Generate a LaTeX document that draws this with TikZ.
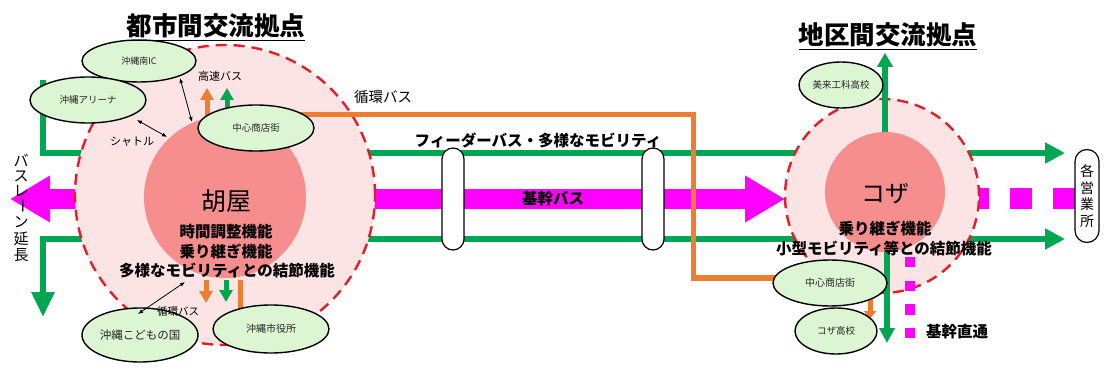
\documentclass[tikz,border=0pt]{standalone}
\usepackage{fontspec}
\setmainfont{Noto Sans CJK JP}
\usetikzlibrary{arrows.meta,shapes.geometric}
\definecolor{gr}{RGB}{0,166,81}
\definecolor{mg}{RGB}{255,0,255}
\definecolor{org}{RGB}{237,125,49}
\definecolor{pinkL}{RGB}{253,228,228}
\definecolor{pinkD}{RGB}{247,142,142}
\definecolor{redD}{RGB}{228,30,38}
\definecolor{elg}{RGB}{220,245,210}
\newcommand\fsz[1]{\fontsize{#1}{#1}\selectfont}
\pgfdeclarelayer{back}
\pgfdeclarelayer{mid}
\pgfdeclarelayer{top}
\pgfsetlayers{back,mid,main,top}
\tikzset{
  grline/.style={draw=gr, line width=6pt},
  orline/.style={draw=org, line width=5pt},
  capsule/.style={rectangle, draw=black, fill=white, line width=1.2pt, rounded corners=11pt, inner sep=0pt},
  outerc/.style={circle, fill=pinkL, draw=redD, line width=2.4pt, dash pattern=on 11pt off 7pt, inner sep=0pt},
  innerc/.style={circle, fill=pinkD, inner sep=0pt},
  spot/.style={ellipse, draw=black, fill=elg, line width=1.4pt, inner sep=0pt, text=black!85},
  txt/.style={inner sep=0pt, text=black},
  btxt/.style={inner sep=0pt, text=black, font=\bfseries},
  dbl/.style={draw=black, line width=0.8pt, {Latex[length=5pt,width=4pt]}-{Latex[length=5pt,width=4pt]}},
}
\begin{document}
\begin{tikzpicture}[x=1pt,y=-1pt]
\begin{pgfonlayer}{back}
\fill[white] (0,0) rectangle (1105,371);
\end{pgfonlayer}
\useasboundingbox (0,0) rectangle (1105,371);

% ---------- ellipses (top layer, defined first for naming)
\begin{pgfonlayer}{top}
\node[spot, minimum width=114pt, minimum height=42pt] (ic) at (139,61) {\fsz{9}沖縄南IC};
\node[spot, minimum width=116pt, minimum height=46pt] (arena) at (88,100) {\fsz{9.5}沖縄アリーナ};
\node[spot, minimum width=116pt, minimum height=46pt] (lshop) at (256,128) {\fsz{9.5}中心商店街};
\node[spot, minimum width=116pt, minimum height=54pt] (kodomo) at (140,335) {\fsz{11.5}沖縄こどもの国};
\node[spot, minimum width=116pt, minimum height=48pt] (city) at (271,329) {\fsz{10}沖縄市役所};
\node[spot, minimum width=84pt, minimum height=46pt] (miku) at (841,85) {\fsz{9.5}美来工科高校};
\node[spot, minimum width=114pt, minimum height=46pt] (rshop) at (830,283) {\fsz{10}中心商店街};
\node[spot, minimum width=82pt, minimum height=46pt] (kozah) at (836,331) {\fsz{9.5}コザ高校};
\end{pgfonlayer}

% ---------- circles (mid layer)
\begin{pgfonlayer}{mid}
\node[outerc, minimum size=300pt] (huyaO) at (225,195) {};
\node[innerc, minimum size=162pt] (huya) at (225,197) {};
\node[outerc, minimum size=194pt] (kozaO) at (882,196) {};
\node[innerc, minimum size=120pt] (koza) at (885,192) {};
\end{pgfonlayer}

% ---------- base lines (back layer)
\begin{pgfonlayer}{back}
\coordinate (gU0) at (43,80);
\coordinate (gU1) at (43,153);
\coordinate (gUe) at (1065,153);
\coordinate (gL0) at (43,317);
\coordinate (gL1) at (43,239);
\coordinate (gLe) at (1065,239);
\draw[grline, -{Triangle[width=20pt,length=20pt]}] (gU0) -- (gU1) -- (gUe);
\draw[grline, {Triangle[width=22pt,length=25pt]}-{Triangle[width=20pt,length=20pt]}] (gL0) -- (gL1) -- (gLe);
\coordinate (mL) at (10,199);
\coordinate (mR) at (785,199);
\draw[mg, line width=20pt, {Triangle[width=44pt,length=40pt]}-{Triangle[width=44pt,length=40pt]}] (mL) -- (mR);
\coordinate (dS) at (967,199);
\coordinate (dE) at (1075,199);
\draw[mg, line width=21pt, dash pattern=on 22pt off 21pt] (dS) -- (dE);
\node[capsule, minimum width=22pt, minimum height=102pt] (cap1) at (453,199) {};
\node[capsule, minimum width=22pt, minimum height=102pt] (cap2) at (653,199) {};
\node[capsule, minimum width=24pt, minimum height=93pt, rounded corners=12pt] (office) at (1087,196) {};
\end{pgfonlayer}

% ---------- orange loop bus line
\coordinate (o1) at (693,115);
\coordinate (o2) at (693,278);
\draw[orline] ([yshift=13pt]lshop.center) -- (o1) -- (o2) -- (rshop.center |- o2);

% short arrows near left hub
\coordinate (a1s) at (207,125); \coordinate (a1e) at (207,88);
\coordinate (a2s) at (227,118); \coordinate (a2e) at (227,88);
\draw[draw=org, line width=5pt, -{Triangle[width=13pt,length=12pt]}] (a1s) -- (a1e);
\draw[draw=gr, line width=5pt, -{Triangle[width=13pt,length=12pt]}] (a2s) -- (a2e);
\coordinate (b1s) at (206,280); \coordinate (b1e) at (206,303);
\coordinate (b2s) at (226,280); \coordinate (b2e) at (226,302);
\coordinate (b3s) at (240,280);
\draw[draw=org, line width=5pt, -{Triangle[width=13pt,length=12pt]}] (b1s) -- (b1e);
\draw[draw=gr, line width=5pt, -{Triangle[width=13pt,length=12pt]}] (b2s) -- (b2e);
\draw[draw=org, line width=5pt] (b3s) -- (b3s |- city.center);

% Koza arrows
\draw[draw=gr, line width=6pt, -{Triangle[width=15pt,length=14pt]}] (koza.north) -- ++(0,-79);
\coordinate (kd) at (887,252);
\draw[draw=gr, line width=6pt, -{Triangle[width=15pt,length=15pt]}] (kd) -- (887,343);
\draw[draw=org, line width=5pt, -{Triangle[width=12pt,length=8pt]}] (870,298) -- (870,319);
\coordinate (vS) at (910,257);
\coordinate (vE) at (910,338);
\draw[mg, line width=10.5pt, dash pattern=on 10.5pt off 13pt] (vS) -- (vE);

% ---------- texts and thin arrows (top layer)
\begin{pgfonlayer}{top}
\coordinate (d1a) at (180,78); \coordinate (d1b) at (192,122);
\coordinate (d2a) at (137,120); \coordinate (d2b) at (167,137);
\coordinate (d3a) at (185,282); \coordinate (d3b) at (138,314);
\draw[dbl] (d1a) -- (d1b);
\draw[dbl] (d2a) -- (d2b);
\draw[dbl] (d3a) -- (d3b);

\node[btxt] (t1) at (216,26) {\fsz{25.5}都市間交流拠点};
\draw[line width=1.5pt] ([yshift=-2pt]t1.south west) -- ([yshift=-2pt]t1.south east);
\node[btxt] (t2) at (888,35) {\fsz{25.5}地区間交流拠点};
\draw[line width=1.5pt] ([yshift=-2pt]t2.south west) -- ([yshift=-2pt]t2.south east);

\node[txt] (kosoku) at (220,76) {\fsz{11}高速バス};
\node[txt] (shuttle) at (132,142) {\fsz{11}シャトル};
\node[txt] (junkan1) at (383,97) {\fsz{14.5}循環バス};
\node[txt] (junkan2) at (178,312) {\fsz{10.5}循環バス};

\node[txt] (huyaT) at (226,201) {\fsz{25}胡屋};
\node[btxt] (f1) at (226,232) {\fsz{15.5}時間調整機能};
\node[btxt] (f2) at (226,251) {\fsz{15.5}乗り継ぎ機能};
\node[btxt] (f3) at (227,270) {\fsz{15.5}多様なモビリティとの結節機能};

\node[txt] (kozaT) at (885,194) {\fsz{24}コザ};
\node[btxt] (k1) at (885,228) {\fsz{15.5}乗り継ぎ機能};
\node[btxt] (k2) at (884,248) {\fsz{15.5}小型モビリティ等との結節機能};

\node[btxt] (feeder) at (538,140) {\fsz{15.5}フィーダーバス・多様なモビリティ};
\node[btxt] (kanbus) at (553,199) {\fsz{15.5}基幹バス};
\node[btxt] (chokutsu) at (957,332) {\fsz{15.5}基幹直通};

\foreach \c [count=\i] in {各,営,業,所}{
  \node[txt] (of\i) at (1087,{155+16.5*\i}) {\fsz{14}\c};
}
\foreach \c [count=\i] in {バ,ス,レ}{
  \node[txt] (bl\i) at (21,{145+15.5*\i}) {\fsz{15}\c};
}
\node[txt, rotate=-90] (bl4) at (21,206) {\fsz{15}ー};
\foreach \c [count=\i from 5] in {ン,延,長}{
  \node[txt] (bl\i) at (21,{222+16.5*(\i-5)}) {\fsz{15}\c};
}
\end{pgfonlayer}
\end{tikzpicture}
\end{document}
